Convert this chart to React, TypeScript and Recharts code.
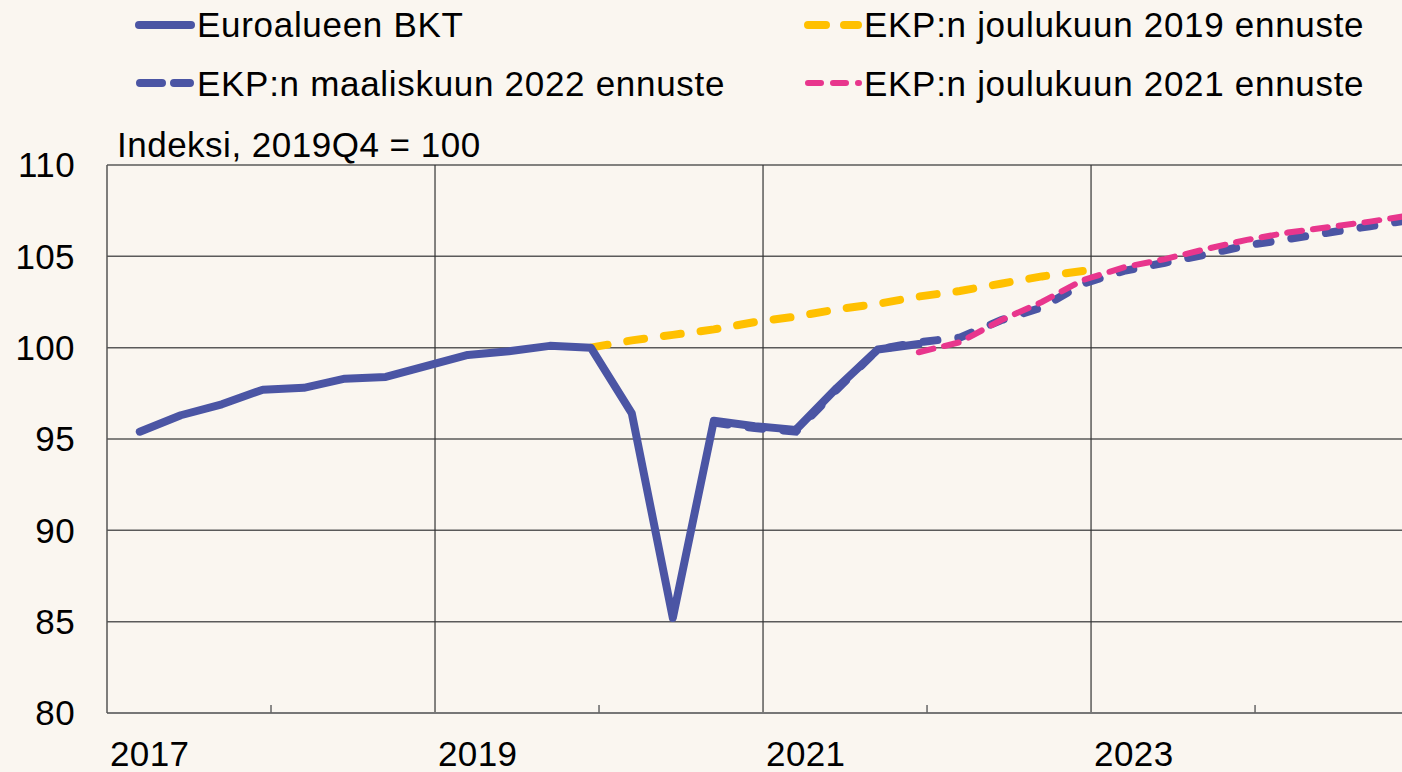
import React from "react";
import { CartesianGrid, Line, LineChart, ReferenceLine, XAxis, YAxis } from "recharts";

const FONT = '"Liberation Sans", Arial, sans-serif';

const quarters = [
  "2017Q1", "2017Q2", "2017Q3", "2017Q4",
  "2018Q1", "2018Q2", "2018Q3", "2018Q4",
  "2019Q1", "2019Q2", "2019Q3", "2019Q4",
  "2020Q1", "2020Q2", "2020Q3", "2020Q4",
  "2021Q1", "2021Q2", "2021Q3", "2021Q4",
  "2022Q1", "2022Q2", "2022Q3", "2022Q4",
  "2023Q1", "2023Q2", "2023Q3", "2023Q4",
  "2024Q1", "2024Q2", "2024Q3", "2024Q4",
];

// Euroalueen BKT, alkaen 2017Q1
const gdp = [
  95.4, 96.3, 96.9, 97.7, 97.8, 98.3, 98.4, 99.0, 99.6, 99.8, 100.1, 100.0,
  96.4, 85.2, 96.0, 95.7, 95.5, 97.8, 99.9, 100.2,
];

// EKP:n joulukuun 2019 ennuste
const dec19Start = "2019Q4";
const dec19 = [100.0, 100.4, 100.7, 101.0, 101.4, 101.7, 102.1, 102.4, 102.8, 103.1, 103.5, 103.9, 104.2];

// EKP:n maaliskuun 2022 ennuste
const mar22Start = "2020Q3";
const mar22 = [
  95.9, 95.6, 95.4, 97.7, 99.9, 100.3, 100.55, 101.5, 102.2, 103.5, 104.2, 104.65,
  105.1, 105.6, 105.95, 106.3, 106.65, 107.0,
];

// EKP:n joulukuun 2021 ennuste
const dec21Start = "2021Q4";
const dec21 = [99.75, 100.3, 101.5, 102.5, 103.7, 104.4, 104.85, 105.4, 105.9, 106.3, 106.6, 106.9, 107.25];

const yTicks = [80, 85, 90, 95, 100, 105, 110];
const yearTicks = [2017, 2018, 2019, 2020, 2021, 2022, 2023, 2024];
const labelledYears = [2017, 2019, 2021, 2023];
const gridYears = [2019, 2021, 2023];

// the source plots each quarter a little before its end
const quarterPos = (label: string) =>
  Number(label.slice(0, 4)) + (Number(label.slice(5)) - 1) / 4 + 0.2;

const pick = (values: number[], start: string, i: number) => {
  const k = i - quarters.indexOf(start);
  return k >= 0 && k < values.length ? values[k] : null;
};

const data = quarters.map((q, i) => ({
  x: quarterPos(q),
  gdp: i < gdp.length ? gdp[i] : null,
  dec19: pick(dec19, dec19Start, i),
  mar22: pick(mar22, mar22Start, i),
  dec21: pick(dec21, dec21Start, i),
}));

const BLUE = "#4B55A4";
const YELLOW = "#FFC000";
const PINK = "#E8368D";

function XTick({ x, y, payload }: any) {
  const year = payload.value;
  return (
    <g>
      {!labelledYears.includes(year) && (
        <line x1={x} x2={x} y1={y - 8} y2={y} stroke="#666" strokeWidth={1.5} />
      )}
      {labelledYears.includes(year) && (
        <text x={x + 3} y={y + 53} fontSize={35} fontFamily={FONT} fill="#000" letterSpacing={0.4}>
          {year}
        </text>
      )}
    </g>
  );
}

export default function App() {
  return (
    <div
      style={{
        position: "fixed",
        left: 0,
        top: 0,
        width: 1402,
        height: 772,
        background: "#FAF6F0",
        fontFamily: FONT,
      }}
    >
      <LineChart width={1402} height={772} data={data} margin={{ top: 165, right: 0, left: 0, bottom: 0 }}>
        <CartesianGrid vertical={false} stroke="#5a5a5a" strokeWidth={1.5} />
        {gridYears.map((yr) => (
          <ReferenceLine key={yr} x={yr} stroke="#333" strokeWidth={1.2} />
        ))}
        <XAxis
          dataKey="x"
          type="number"
          domain={[2017, 2024.896]}
          allowDataOverflow
          ticks={yearTicks}
          interval={0}
          height={59}
          tickSize={0}
          tickMargin={0}
          axisLine={{ stroke: "#777", strokeWidth: 2 }}
          tick={XTick}
        />
        <YAxis
          domain={[80, 110]}
          ticks={yTicks}
          interval={0}
          width={107}
          tickSize={0}
          tickMargin={32}
          axisLine={{ stroke: "#555", strokeWidth: 1.5 }}
          tick={{ fill: "#000", fontSize: 35, fontFamily: FONT, letterSpacing: 0.4 }}
        />
        <Line
          dataKey="dec19"
          type="linear"
          stroke={YELLOW}
          strokeWidth={8}
          strokeDasharray="17 20"
          strokeLinecap="round"
          dot={false}
          isAnimationActive={false}
        />
        <Line
          dataKey="gdp"
          type="linear"
          stroke={BLUE}
          strokeWidth={8}
          strokeLinecap="round"
          strokeLinejoin="round"
          dot={false}
          isAnimationActive={false}
        />
        <Line
          dataKey="mar22"
          type="linear"
          stroke={BLUE}
          strokeWidth={8}
          strokeDasharray="14 21"
          strokeLinecap="round"
          dot={false}
          isAnimationActive={false}
        />
        <Line
          dataKey="dec21"
          type="linear"
          stroke={PINK}
          strokeWidth={6}
          strokeDasharray="15 11"
          strokeLinecap="round"
          dot={false}
          isAnimationActive={false}
        />
      </LineChart>

      <svg
        width={1402}
        height={165}
        style={{ position: "absolute", left: 0, top: 0, pointerEvents: "none" }}
        fontFamily={FONT}
        fontSize={35}
        letterSpacing={0.7}
      >
        <line x1={139} x2={191} y1={25} y2={25} stroke={BLUE} strokeWidth={8} strokeLinecap="round" />
        <text x={197} y={37}>Euroalueen BKT</text>

        <line x1={140} x2={190} y1={83} y2={83} stroke={BLUE} strokeWidth={8} strokeLinecap="round" strokeDasharray="22 12" />
        <text x={197} y={96}>EKP:n maaliskuun 2022 ennuste</text>

        <line x1={808} x2={858} y1={25} y2={25} stroke={YELLOW} strokeWidth={8} strokeLinecap="round" strokeDasharray="18 18" />
        <text x={864} y={37}>EKP:n joulukuun 2019 ennuste</text>

        <line x1={808} x2={859} y1={83} y2={83} stroke={PINK} strokeWidth={6} strokeLinecap="round" strokeDasharray="13 12" />
        <text x={864} y={96}>EKP:n joulukuun 2021 ennuste</text>

        <text x={117} y={157} letterSpacing={0.5}>Indeksi, 2019Q4 = 100</text>
      </svg>
    </div>
  );
}
